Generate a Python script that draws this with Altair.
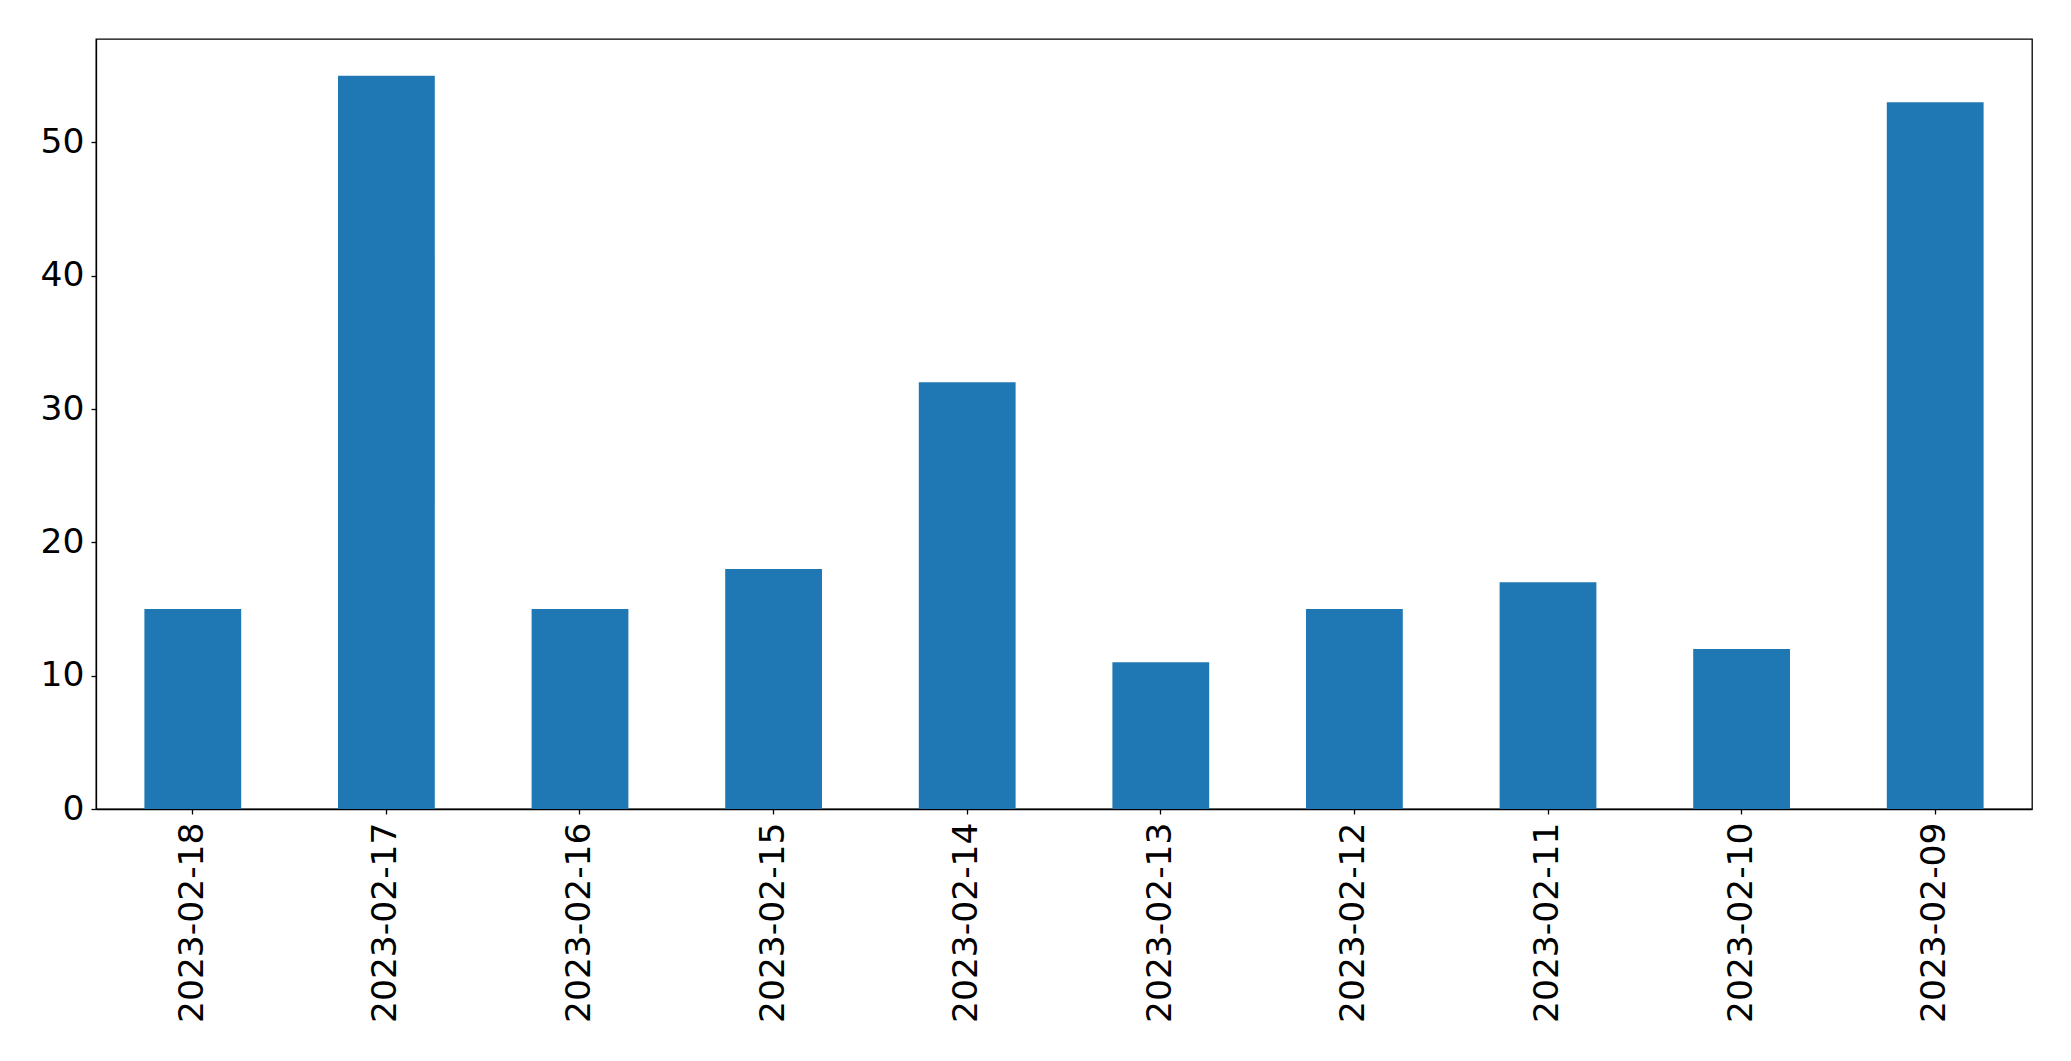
import altair as alt
import pandas as pd

dates = ["2023-02-18", "2023-02-17", "2023-02-16", "2023-02-15", "2023-02-14",
         "2023-02-13", "2023-02-12", "2023-02-11", "2023-02-10", "2023-02-09"]
counts = [15, 55, 15, 18, 32, 11, 15, 17, 12, 53]
y_ticks = [0, 10, 20, 30, 40, 50]

df = pd.DataFrame({"date": dates, "count": counts})

FONT = "DejaVu Sans"
FS = 34.5

chart = alt.Chart(df).mark_bar(color="#1f77b4").encode(
    x=alt.X("date:N", sort=None, title=None,
            scale=alt.Scale(paddingInner=0.5, paddingOuter=0.25),
            axis=alt.Axis(labelAngle=-90, labelFont=FONT, labelFontSize=FS,
                          labelLimit=0,
                          labelColor="black", tickColor="black", domainColor="black",
                          tickSize=5, labelPadding=8, domainWidth=1.3, tickWidth=1.3)),
    y=alt.Y("count:Q", title=None,
            scale=alt.Scale(domain=[0, 57.75], nice=False, zero=True),
            axis=alt.Axis(values=y_ticks, grid=False, labelFont=FONT, labelFontSize=FS,
                          labelColor="black", tickColor="black", domainColor="black",
                          tickSize=5, labelPadding=7, domainWidth=1.3, tickWidth=1.3)),
).properties(
    width=1936, height=770,
    padding={"left": 32, "top": 31, "right": 20, "bottom": 8},
).configure(
    background="white"
).configure_view(
    stroke="black", strokeWidth=1.3
)

chart.save("out.html", embed_options={"renderer": "svg", "actions": False})
